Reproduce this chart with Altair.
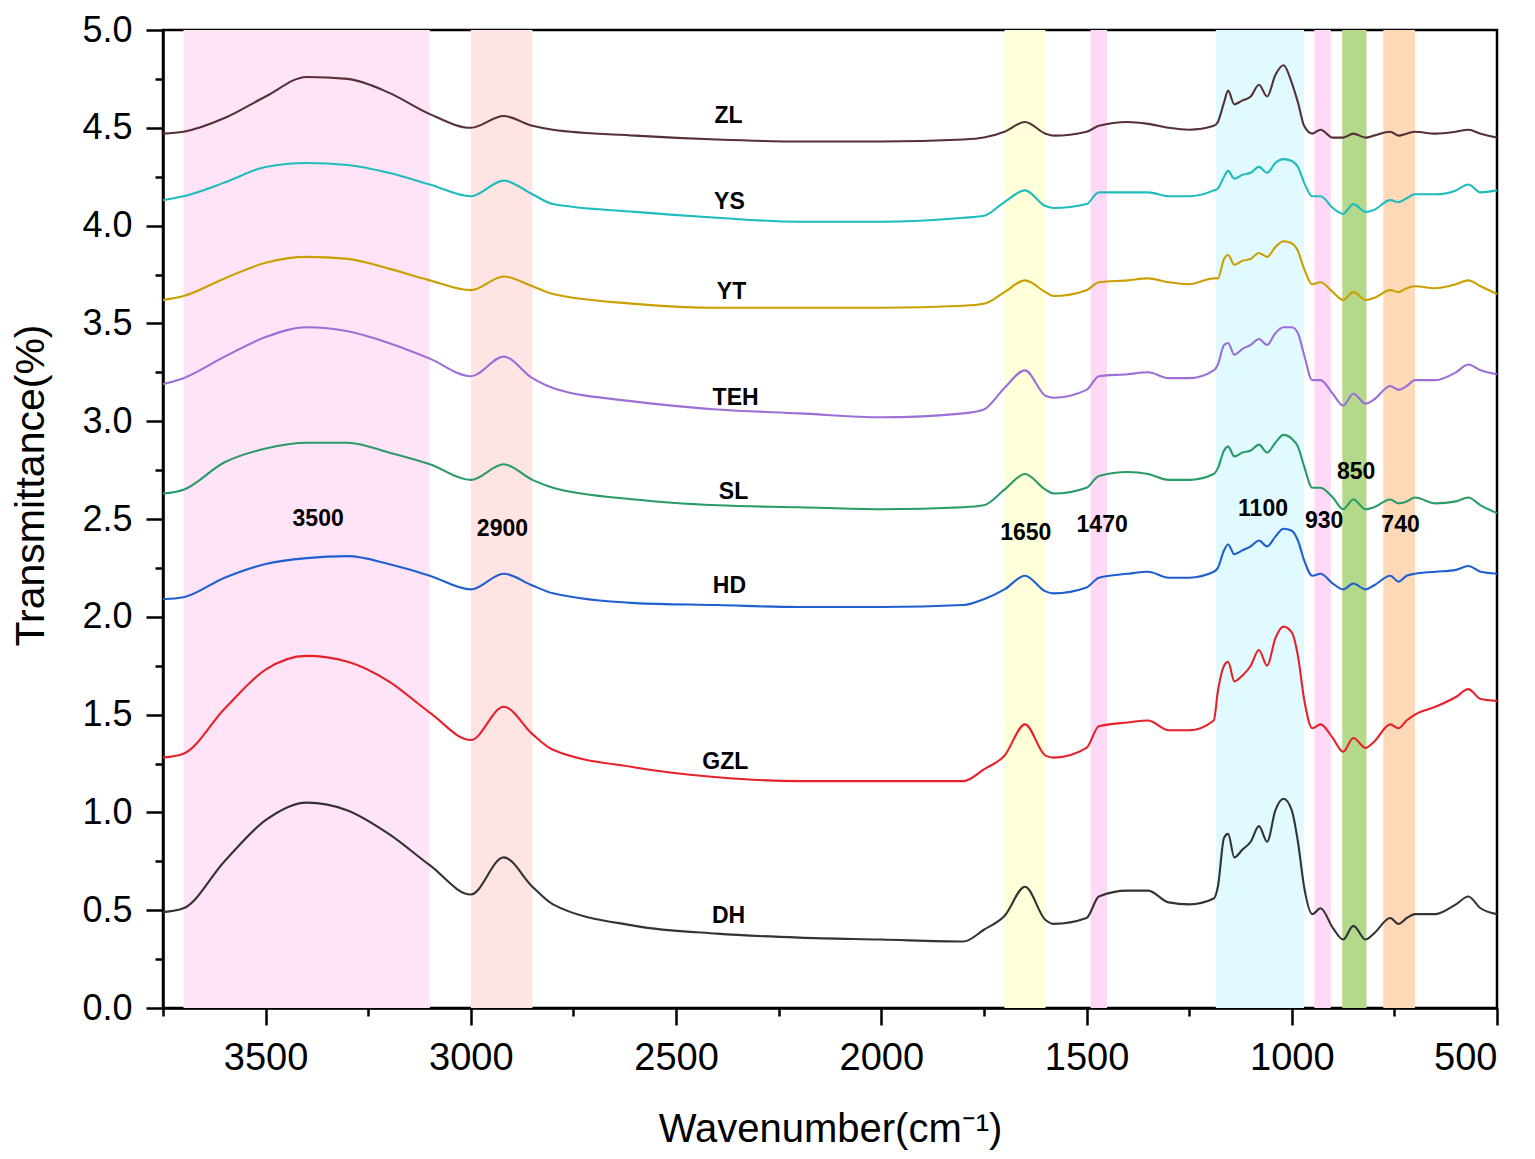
import altair as alt
import pandas as pd

# Wavenumbers (cm-1) at which the spectra were read
wavenumber = [3750, 3700, 3600, 3500, 3400, 3300, 3200, 3100, 3000, 2920,
              2850, 2800, 2600, 2400, 2200, 2000, 1800, 1750, 1700, 1650,
              1600, 1580, 1500, 1470, 1400, 1350, 1300, 1250, 1190, 1180,
              1165, 1155, 1140, 1120, 1100, 1080, 1060, 1040, 1020, 1000,
              985, 970, 950, 930, 900, 875, 850, 820, 800, 760,
              740, 720, 700, 650, 600, 570, 540, 500]

zl = [4.47, 4.48, 4.55, 4.66, 4.76, 4.75, 4.68, 4.57, 4.50, 4.56,
      4.51, 4.49, 4.46, 4.44, 4.43, 4.43, 4.44, 4.45, 4.48, 4.53,
      4.47, 4.46, 4.48, 4.51, 4.53, 4.52, 4.50, 4.49, 4.51, 4.53,
      4.63, 4.69, 4.62, 4.64, 4.66, 4.72, 4.66, 4.77, 4.82, 4.73,
      4.63, 4.51, 4.47, 4.49, 4.45, 4.45, 4.47, 4.45, 4.46, 4.48,
      4.46, 4.47, 4.48, 4.47, 4.48, 4.49, 4.47, 4.45]
ys = [4.13, 4.15, 4.22, 4.30, 4.32, 4.31, 4.27, 4.21, 4.15, 4.23,
      4.16, 4.11, 4.07, 4.04, 4.02, 4.02, 4.04, 4.05, 4.12, 4.18,
      4.10, 4.09, 4.11, 4.17, 4.17, 4.17, 4.15, 4.15, 4.18, 4.19,
      4.25, 4.28, 4.24, 4.26, 4.27, 4.30, 4.27, 4.32, 4.34, 4.33,
      4.30, 4.22, 4.15, 4.15, 4.09, 4.06, 4.11, 4.07, 4.08, 4.13,
      4.12, 4.14, 4.16, 4.16, 4.18, 4.21, 4.17, 4.18]
yt = [3.62, 3.64, 3.73, 3.81, 3.84, 3.83, 3.78, 3.72, 3.67, 3.74,
      3.69, 3.65, 3.60, 3.58, 3.58, 3.58, 3.59, 3.60, 3.66, 3.72,
      3.66, 3.64, 3.67, 3.71, 3.72, 3.73, 3.71, 3.70, 3.73, 3.73,
      3.83, 3.85, 3.80, 3.82, 3.83, 3.86, 3.84, 3.89, 3.92, 3.91,
      3.87, 3.78, 3.70, 3.71, 3.66, 3.62, 3.66, 3.62, 3.63, 3.67,
      3.66, 3.68, 3.69, 3.68, 3.70, 3.72, 3.69, 3.65]
teh = [3.19, 3.22, 3.33, 3.43, 3.48, 3.46, 3.40, 3.32, 3.23, 3.33,
       3.22, 3.17, 3.10, 3.06, 3.04, 3.02, 3.04, 3.06, 3.17, 3.26,
       3.13, 3.12, 3.16, 3.23, 3.24, 3.25, 3.22, 3.22, 3.26, 3.29,
       3.39, 3.40, 3.34, 3.37, 3.39, 3.42, 3.39, 3.45, 3.48, 3.48,
       3.45, 3.34, 3.21, 3.21, 3.14, 3.08, 3.14, 3.09, 3.11, 3.18,
       3.16, 3.18, 3.21, 3.21, 3.25, 3.29, 3.26, 3.24]
sl = [2.63, 2.65, 2.79, 2.86, 2.89, 2.89, 2.84, 2.78, 2.70, 2.78,
      2.70, 2.66, 2.60, 2.57, 2.56, 2.55, 2.56, 2.57, 2.65, 2.73,
      2.65, 2.63, 2.66, 2.72, 2.74, 2.73, 2.70, 2.70, 2.73, 2.76,
      2.85, 2.87, 2.82, 2.84, 2.85, 2.88, 2.84, 2.89, 2.93, 2.91,
      2.87, 2.77, 2.66, 2.66, 2.61, 2.55, 2.60, 2.55, 2.56, 2.60,
      2.58, 2.59, 2.61, 2.58, 2.59, 2.61, 2.57, 2.53]
hd = [2.09, 2.10, 2.20, 2.27, 2.30, 2.31, 2.27, 2.21, 2.14, 2.22,
      2.16, 2.12, 2.07, 2.06, 2.05, 2.05, 2.06, 2.09, 2.14, 2.21,
      2.13, 2.12, 2.15, 2.20, 2.22, 2.23, 2.20, 2.20, 2.23, 2.25,
      2.34, 2.37, 2.32, 2.34, 2.36, 2.39, 2.36, 2.41, 2.45, 2.44,
      2.39, 2.29, 2.21, 2.22, 2.17, 2.14, 2.17, 2.14, 2.16, 2.21,
      2.18, 2.21, 2.22, 2.23, 2.24, 2.26, 2.23, 2.22]
gzl = [1.28, 1.30, 1.53, 1.73, 1.80, 1.77, 1.67, 1.51, 1.37, 1.54,
       1.40, 1.32, 1.23, 1.18, 1.16, 1.16, 1.16, 1.22, 1.29, 1.45,
       1.29, 1.28, 1.33, 1.44, 1.46, 1.47, 1.42, 1.42, 1.47, 1.62,
       1.75, 1.77, 1.67, 1.70, 1.75, 1.83, 1.75, 1.89, 1.95, 1.92,
       1.80, 1.58, 1.43, 1.45, 1.38, 1.31, 1.38, 1.33, 1.36, 1.45,
       1.43, 1.47, 1.50, 1.54, 1.59, 1.63, 1.58, 1.57]
dh = [0.49, 0.51, 0.75, 0.96, 1.05, 1.01, 0.89, 0.73, 0.58, 0.77,
      0.62, 0.53, 0.42, 0.38, 0.36, 0.35, 0.34, 0.40, 0.47, 0.62,
      0.45, 0.43, 0.46, 0.57, 0.60, 0.60, 0.54, 0.53, 0.56, 0.62,
      0.87, 0.89, 0.77, 0.81, 0.85, 0.93, 0.85, 1.01, 1.07, 1.01,
      0.85, 0.62, 0.48, 0.51, 0.41, 0.35, 0.42, 0.35, 0.38, 0.46,
      0.43, 0.46, 0.48, 0.48, 0.53, 0.57, 0.51, 0.48]

samples = ["ZL", "YS", "YT", "TEH", "SL", "HD", "GZL", "DH"]
sample_colors = ["#553038", "#1fbcbc", "#c9a000", "#9b6fd6",
                 "#2a9a68", "#1f5fd0", "#e62129", "#333333"]
sample_label_x = [2372, 2370, 2365, 2355, 2360, 2370, 2380, 2372]
sample_label_y = [4.56, 4.12, 3.66, 3.12, 2.64, 2.16, 1.26, 0.47]

# Highlighted absorption regions
band_names = ["3500", "2900", "1650", "1470", "1100", "930", "850", "740"]
band_start = [3700, 3000, 1700, 1490, 1185, 945, 877, 777]
band_end = [3100, 2850, 1600, 1450, 970, 905, 818, 700]
band_colors = ["#ffe3f7", "#ffe4e4", "#ffffd9", "#ffd9f5",
               "#e0faff", "#ffd9f5", "#b5d98a", "#fdd9b8"]
peak_label_x = [3372, 2923, 1648, 1462, 1070, 921, 843, 735]
peak_label_y = [2.50, 2.45, 2.43, 2.47, 2.55, 2.49, 2.74, 2.47]

series = [zl, ys, yt, teh, sl, hd, gzl, dh]
rows = []
for name, values in zip(samples, series):
    for w, v in zip(wavenumber, values):
        rows.append({"wavenumber": w, "value": v, "sample": name})
spectra = pd.DataFrame(rows)

bands = pd.DataFrame({"band": band_names, "start": band_start, "end": band_end})
peaks = pd.DataFrame({"label": band_names, "x": peak_label_x, "y": peak_label_y})
sample_labels = pd.DataFrame({"label": samples, "x": sample_label_x, "y": sample_label_y})

FONT = "Liberation Sans"
x_scale = alt.Scale(domain=[500, 3750], reverse=True, nice=False, zero=False)
y_scale = alt.Scale(domain=[0, 5], nice=False, zero=False)

major_x = alt.Axis(
    orient="bottom", values=[3500, 3000, 2500, 2000, 1500, 1000, 500], format="d",
    grid=False, tickSize=17, tickWidth=2.5, tickColor="black",
    domainWidth=2.5, domainColor="black",
    labelFont=FONT, labelFontSize=38, labelColor="black", labelPadding=14,
    title="Wavenumber(cm⁻¹)", titleFont=FONT, titleFontSize=40,
    titleFontWeight="normal", titleColor="black", titlePadding=32
)
minor_x = alt.Axis(
    orient="bottom", values=[3750, 3250, 2750, 2250, 1750, 1250, 750],
    grid=False, labels=False, domain=False, tickSize=8, tickWidth=2.5,
    tickColor="black", title=None
)
major_y = alt.Axis(
    orient="left", values=[0, 0.5, 1, 1.5, 2, 2.5, 3, 3.5, 4, 4.5, 5], format=".1f",
    grid=False, tickSize=17, tickWidth=2.5, tickColor="black",
    domainWidth=2.5, domainColor="black",
    labelFont=FONT, labelFontSize=36, labelColor="black", labelPadding=14,
    title="Transmittance(%)", titleFont=FONT, titleFontSize=41,
    titleFontWeight="normal", titleColor="black",
    titleX=-132, titleY=455, titleBaseline="middle"
)
minor_y = alt.Axis(
    orient="left", values=[0.25, 0.75, 1.25, 1.75, 2.25, 2.75, 3.25, 3.75, 4.25, 4.75],
    grid=False, labels=False, domain=False, tickSize=8, tickWidth=2.5,
    tickColor="black", title=None
)

band_layer = alt.Chart(bands).mark_rect().encode(
    x=alt.X("start:Q", scale=x_scale, axis=None),
    x2="end:Q",
    fill=alt.Fill("band:N", scale=alt.Scale(domain=band_names, range=band_colors), legend=None)
)

lines = alt.Chart(spectra).mark_line(strokeWidth=2.1, interpolate="monotone").encode(
    x=alt.X("wavenumber:Q", scale=x_scale, axis=major_x),
    y=alt.Y("value:Q", scale=y_scale, axis=major_y),
    color=alt.Color("sample:N", scale=alt.Scale(domain=samples, range=sample_colors), legend=None),
    detail="sample:N"
)

peak_text = alt.Chart(peaks).mark_text(
    font=FONT, fontSize=23, fontWeight="bold", color="black", align="center", baseline="middle"
).encode(
    x=alt.X("x:Q", scale=x_scale, axis=minor_x),
    y=alt.Y("y:Q", scale=y_scale, axis=minor_y),
    text="label:N"
)

sample_text = alt.Chart(sample_labels).mark_text(
    font=FONT, fontSize=23, fontWeight="bold", color="black", align="center", baseline="middle"
).encode(
    x=alt.X("x:Q", scale=x_scale, axis=None),
    y=alt.Y("y:Q", scale=y_scale, axis=None),
    text="label:N"
)

chart = alt.layer(band_layer, lines, peak_text, sample_text).resolve_axis(
    x="independent", y="independent"
).properties(
    width=1334,
    height=978,
    padding={"left": 155, "top": 22, "right": 30, "bottom": 148},
    autosize=alt.AutoSizeParams(type="none")
).configure_view(
    stroke="black", strokeWidth=2.5
)

chart.save("out.html", embed_options={"renderer": "svg", "actions": False})
